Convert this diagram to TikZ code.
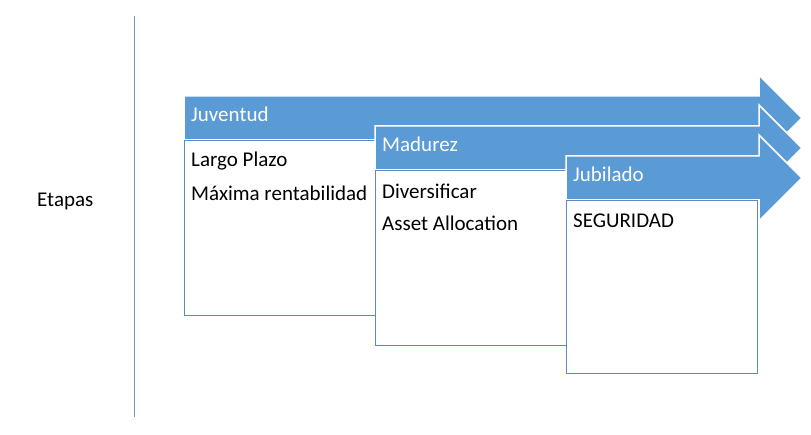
\documentclass[tikz,border=0pt]{standalone}
\usepackage{fontspec}
\setmainfont{Carlito}
\definecolor{arrowblue}{HTML}{5B9BD5}
\definecolor{boxline}{HTML}{5A8AC0}
\definecolor{axisline}{HTML}{6F98C8}
\begin{document}
\begin{tikzpicture}[x=1pt,y=-1pt,
  stagearrow/.style={fill=arrowblue,draw=white,line width=1.5pt},
  stagebox/.style={draw=boxline,fill=white,line width=1pt},
  headtxt/.style={anchor=west,text=white,inner sep=0pt,font=\fontsize{21}{25}\selectfont},
  bodytxt/.style={anchor=west,text=black,inner sep=0pt,font=\fontsize{21}{25}\selectfont}]
\useasboundingbox (0,0) rectangle (811,435);
% axis
\coordinate (axtop) at (134,16);
\coordinate (axbot) at (134,417);
\draw[axisline,line width=1pt] (axtop) -- (axbot);
\node[bodytxt] (etapas) at (37,201) {Etapas};
% stage 1
\draw[stagearrow] (184,96) -- (759,96) -- (759,75) -- (802,118) -- (759,161) -- (759,140) -- (184,140) -- cycle;
\node[headtxt] (juv) at (191,114) {Juventud};
\draw[stagebox] (184,141) rectangle (375,316);
\node[bodytxt] (lp) at (191,161) {Largo Plazo};
\node[bodytxt] (mr) at (191,193) {Máxima rentabilidad};
% stage 2
\draw[stagearrow] (375,126) -- (759,126) -- (759,105) -- (802,148) -- (759,191) -- (759,170) -- (375,170) -- cycle;
\node[headtxt] (mad) at (382,144) {Madurez};
\draw[stagebox] (375,171) rectangle (566,346);
\node[bodytxt] (div) at (382,191) {Diversificar};
\node[bodytxt] (aa) at (382,223) {Asset Allocation};
% stage 3
\draw[stagearrow] (566,156) -- (759,156) -- (759,135) -- (802,178) -- (759,221) -- (759,200) -- (566,200) -- cycle;
\node[headtxt] (jub) at (573,174) {Jubilado};
\draw[stagebox] (566,201) rectangle (757,374);
\node[bodytxt] (seg) at (573,221) {SEGURIDAD};
\end{tikzpicture}
\end{document}
